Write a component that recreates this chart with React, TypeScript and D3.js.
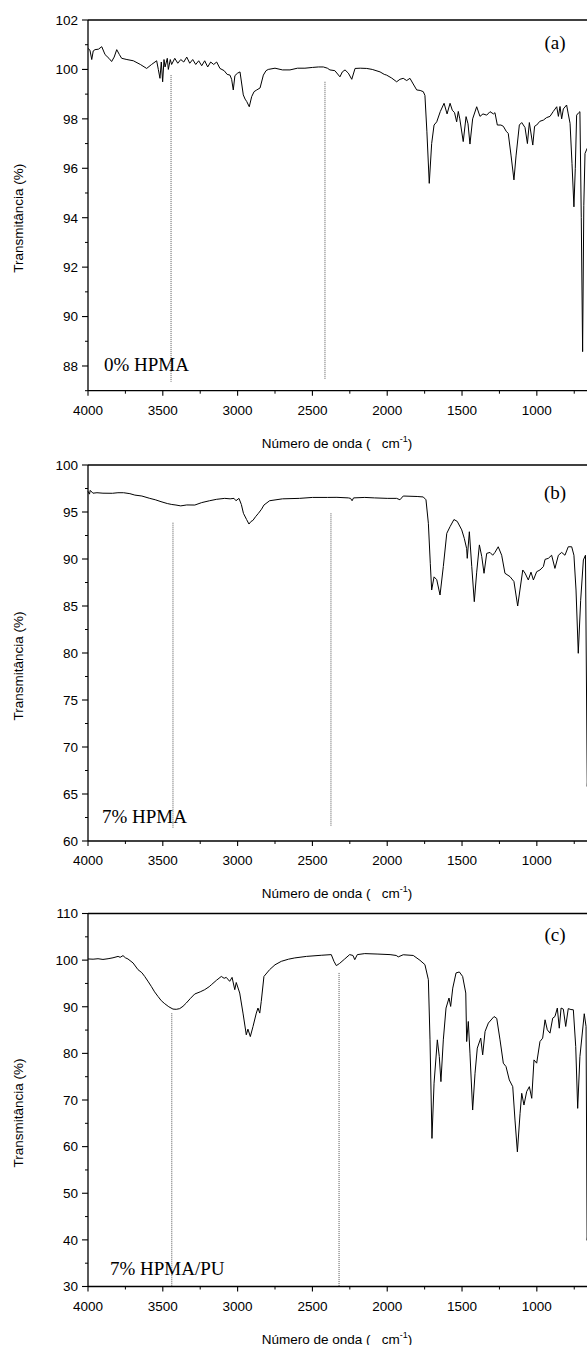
import React from 'react'
import * as d3 from 'd3'

const W = 587
const H = 1345

// [número de onda (cm-1), transmitância (%)]
const specA: [number, number][] = [
  [4000,100.85],[3987,100.78],[3975,100.4],[3965,100.75],[3953,100.8],[3930,100.82],[3908,100.92],[3886,100.6],
  [3860,100.45],[3842,100.32],[3825,100.5],[3808,100.8],[3790,100.6],[3775,100.45],[3740,100.4],[3697,100.35],
  [3650,100.2],[3608,100.04],[3575,100.2],[3541,100.35],[3530,100.0],[3519,99.64],[3510,100.3],[3501,99.5],
  [3492,100.4],[3485,100.1],[3470,100.45],[3463,100.0],[3450,100.4],[3441,100.2],[3420,100.45],[3400,100.25],
  [3380,100.4],[3360,100.3],[3340,100.5],[3320,100.25],[3300,100.4],[3280,100.2],[3260,100.35],[3240,100.15],
  [3220,100.35],[3200,100.1],[3180,100.3],[3160,100.2],[3140,100.3],[3118,100.04],[3090,99.95],[3070,99.8],
  [3051,99.77],[3040,99.6],[3029,99.17],[3018,99.75],[3000,99.85],[2984,99.9],[2962,98.97],[2950,98.8],
  [2939,98.7],[2922,98.49],[2906,98.9],[2890,99.1],[2872,99.17],[2850,99.25],[2828,99.77],[2810,99.95],
  [2795,100.0],[2750,100.05],[2700,99.98],[2650,99.98],[2600,100.05],[2550,100.05],[2500,100.08],[2460,100.1],
  [2427,100.1],[2400,100.05],[2383,99.98],[2350,99.95],[2316,99.7],[2300,99.9],[2282,99.98],[2260,99.85],
  [2237,99.6],[2215,100.04],[2180,100.05],[2137,100.04],[2100,100.0],[2048,99.9],[2020,99.8],[2004,99.77],
  [1970,99.65],[1937,99.5],[1915,99.6],[1893,99.64],[1870,99.55],[1848,99.64],[1830,99.45],[1803,99.17],
  [1780,99.15],[1759,99.1],[1748,98.95],[1735,97.5],[1719,95.39],[1703,97.0],[1687,97.75],[1669,97.88],
  [1645,98.3],[1620,98.63],[1600,98.2],[1580,98.63],[1565,98.35],[1550,98.25],[1536,97.88],[1525,98.3],
  [1515,98.0],[1492,97.08],[1473,98.09],[1460,97.8],[1447,96.98],[1429,98.0],[1402,98.49],[1380,98.1],
  [1360,98.2],[1335,98.15],[1313,98.29],[1290,98.2],[1280,98.25],[1264,97.75],[1240,97.75],[1224,97.7],
  [1205,97.5],[1191,97.41],[1172,96.5],[1153,95.53],[1139,96.5],[1117,97.75],[1101,97.85],[1079,97.65],
  [1063,97.0],[1050,97.85],[1027,96.94],[1015,97.7],[1001,97.75],[980,97.9],[956,97.95],[935,98.05],
  [912,98.1],[890,98.3],[867,98.49],[856,98.1],[845,98.5],[834,98.0],[823,98.4],[801,98.56],[790,98.2],
  [778,97.82],[765,96.2],[752,94.44],[743,96.0],[734,98.15],[720,98.25],[712,98.29],[703,94.0],[694,88.58],
  [686,94.5],[678,96.6],[664,96.8],[640,97.0]
]

const specB: [number, number][] = [
  [4000,97.2],[3990,96.9],[3985,97.3],[3967,97.0],[3940,97.05],[3900,97.0],[3837,96.99],[3800,97.05],
  [3762,97.05],[3720,96.95],[3687,96.8],[3640,96.7],[3587,96.45],[3550,96.3],[3512,96.1],[3470,95.9],
  [3440,95.8],[3412,95.74],[3380,95.65],[3340,95.75],[3286,95.74],[3240,96.0],[3187,96.2],[3140,96.35],
  [3086,96.45],[3050,96.4],[3024,96.45],[3011,96.2],[2991,96.45],[2975,95.8],[2961,94.86],[2940,94.2],
  [2924,93.72],[2910,94.0],[2898,94.1],[2880,94.5],[2861,94.86],[2840,95.3],[2824,95.74],[2786,96.2],
  [2700,96.4],[2586,96.45],[2500,96.55],[2400,96.55],[2336,96.56],[2260,96.5],[2245,96.45],[2235,96.2],
  [2225,96.5],[2150,96.55],[2085,96.5],[2000,96.45],[1937,96.45],[1915,96.3],[1893,96.7],[1800,96.65],
  [1759,96.6],[1741,96.3],[1725,93.8],[1712,89.5],[1703,86.7],[1687,88.1],[1669,87.8],[1647,86.17],
  [1625,89.2],[1602,92.73],[1580,93.44],[1554,94.2],[1532,94.0],[1502,93.1],[1485,92.2],[1469,91.1],
  [1465,90.07],[1451,92.9],[1435,89.2],[1418,85.46],[1402,88.6],[1384,91.5],[1368,90.25],[1353,88.48],
  [1335,90.6],[1313,90.7],[1295,90.4],[1280,90.7],[1258,91.3],[1235,90.4],[1213,88.48],[1179,88.12],
  [1153,87.6],[1128,85.0],[1113,86.7],[1094,88.83],[1079,88.5],[1057,87.77],[1039,88.6],[1023,87.77],
  [1001,88.65],[979,88.83],[956,89.2],[945,89.96],[923,90.07],[901,90.4],[879,89.0],[856,90.4],
  [834,90.7],[812,90.4],[790,91.3],[767,91.3],[752,90.4],[738,86.7],[723,79.97],[707,85.6],
  [689,89.9],[675,90.4],[663,65.8],[640,72.0]
]

const specC: [number, number][] = [
  [4000,100.25],[3966,100.2],[3933,100.3],[3900,100.15],[3866,100.3],[3833,100.5],[3799,100.8],[3785,100.6],
  [3766,100.97],[3750,100.5],[3733,100.25],[3699,99.4],[3666,97.96],[3640,97.3],[3621,96.5],[3600,95.5],
  [3577,94.37],[3555,93.2],[3532,92.2],[3510,91.3],[3487,90.65],[3460,90.0],[3432,89.5],[3410,89.45],
  [3387,89.6],[3365,90.1],[3343,90.8],[3315,91.8],[3287,92.73],[3250,93.2],[3220,93.66],[3190,94.3],
  [3176,94.7],[3142,95.66],[3109,96.5],[3090,96.1],[3076,96.3],[3053,95.45],[3037,96.3],[3019,93.66],
  [3009,95.2],[2986,92.94],[2964,88.64],[2942,83.98],[2931,85.2],[2915,83.6],[2897,85.77],[2875,88.64],
  [2864,89.72],[2852,88.64],[2842,91.14],[2824,96.5],[2786,97.96],[2750,99.0],[2708,99.74],[2660,100.2],
  [2618,100.47],[2540,100.8],[2441,101.04],[2374,101.18],[2356,99.74],[2340,98.82],[2318,99.3],[2284,100.25],
  [2251,101.18],[2229,101.0],[2217,100.1],[2200,101.18],[2150,101.4],[2062,101.3],[1981,101.18],[1940,101.0],
  [1926,100.7],[1893,101.15],[1826,101.0],[1781,99.96],[1748,99.03],[1725,95.8],[1714,82.9],[1701,61.76],
  [1687,73.6],[1665,82.9],[1652,79.3],[1641,73.94],[1625,82.9],[1607,89.72],[1587,91.87],[1576,90.07],
  [1562,94.0],[1540,97.25],[1518,97.46],[1496,96.5],[1475,92.94],[1469,82.54],[1458,86.84],[1447,80.05],
  [1429,67.85],[1413,75.74],[1398,81.12],[1375,83.27],[1362,79.68],[1346,84.7],[1324,86.5],[1286,87.9],
  [1268,87.5],[1246,82.9],[1224,77.9],[1206,77.17],[1184,74.3],[1161,72.86],[1146,65.7],[1130,58.88],
  [1112,67.14],[1101,71.44],[1086,68.92],[1068,71.8],[1050,72.86],[1034,70.36],[1019,78.6],[1001,77.9],
  [979,82.54],[961,83.27],[945,87.2],[930,85.05],[912,84.34],[894,87.55],[879,87.9],[863,89.72],
  [850,85.4],[838,89.72],[823,89.5],[807,85.77],[790,89.6],[772,89.4],[756,89.35],[740,81.46],
  [727,68.21],[712,79.3],[683,88.5],[671,85.77],[664,39.9],[645,45.0]
]

// linhas pontilhadas: [número de onda, T início, T fim]
const markersA = [[3445, 99.77, 87.36], [2416, 99.5, 87.46]]
const markersB = [[3432, 93.86, 61.4], [2376, 94.86, 61.6]]
const markersC = [[3440, 88.6, 30], [2322, 97.25, 30]]

const xTicks = [4000, 3500, 3000, 2500, 2000, 1500, 1000]
const xMinor = [3750, 3250, 2750, 2250, 1750, 1250, 750]
const yTicksA = [88, 90, 92, 94, 96, 98, 100, 102]
const yMinorA = [87, 89, 91, 93, 95, 97, 99, 101]
const yTicksB = [60, 65, 70, 75, 80, 85, 90, 95, 100]
const yMinorB = [62.5, 67.5, 72.5, 77.5, 82.5, 87.5, 92.5, 97.5]
const yTicksC = [30, 40, 50, 60, 70, 80, 90, 100, 110]
const yMinorC = [35, 45, 55, 65, 75, 85, 95, 105]

const tags = ['(a)', '(b)', '(c)']
const samples = ['0% HPMA', '7% HPMA', '7% HPMA/PU']

const sans = 'Arial, "Liberation Sans", sans-serif'
const serif = '"Times New Roman", "Liberation Serif", serif'

const panels = [
  { top: 20, bottom: 390.7, domain: [87, 102], ticks: yTicksA, minor: yMinorA, data: specA, markers: markersA, sx: 104, sy: 371, ty: 49 },
  { top: 465, bottom: 841, domain: [60, 100], ticks: yTicksB, minor: yMinorB, data: specB, markers: markersB, sx: 102, sy: 823, ty: 499 },
  { top: 913.5, bottom: 1286.5, domain: [30, 110], ticks: yTicksC, minor: yMinorC, data: specC, markers: markersC, sx: 110, sy: 1275, ty: 941 },
]

const Panel = ({ p, i }: any) => {
  const x = d3.scaleLinear().domain([4000, 400]).range([88, 626.6])
  const y = d3.scaleLinear().domain(p.domain).range([p.bottom, p.top])
  const line = d3.line<[number, number]>().x(d => x(d[0])).y(d => y(d[1]))
  const cy = (p.top + p.bottom) / 2 + 13

  return (
    <g>
      {/* curva */}
      <path d={line(p.data) || ''} fill="none" stroke="#000" strokeWidth={1} strokeLinejoin="round" />
      {p.markers.map((m: number[], k: number) => (
        <line key={k} x1={x(m[0])} x2={x(m[0])} y1={y(m[1])} y2={y(m[2])}
          stroke="#555" strokeWidth={1} strokeDasharray="1,1" />
      ))}
      {/* moldura */}
      <line x1={88} x2={W + 10} y1={p.top} y2={p.top} stroke="#000" strokeWidth={1.3} />
      <line x1={88} x2={W + 10} y1={p.bottom} y2={p.bottom} stroke="#000" strokeWidth={1.3} />
      <line x1={88} x2={88} y1={p.top} y2={p.bottom} stroke="#000" strokeWidth={1.3} />
      {p.ticks.map((t: number) => (
        <g key={t}>
          <line x1={82} x2={88} y1={y(t)} y2={y(t)} stroke="#000" strokeWidth={1.1} />
          <text x={78} y={y(t) + 4.8} textAnchor="end" fontSize={13.5} fontFamily={sans}>{t}</text>
        </g>
      ))}
      {p.minor.map((t: number) => (
        <line key={t} x1={85} x2={88} y1={y(t)} y2={y(t)} stroke="#000" strokeWidth={1} />
      ))}
      {xTicks.map(t => (
        <g key={t}>
          <line x1={x(t)} x2={x(t)} y1={p.bottom} y2={p.bottom + 5} stroke="#000" strokeWidth={1.1} />
          <text x={x(t)} y={p.bottom + 24} textAnchor="middle" fontSize={13.5} fontFamily={sans}>{t}</text>
        </g>
      ))}
      {xMinor.map(t => (
        <line key={t} x1={x(t)} x2={x(t)} y1={p.bottom} y2={p.bottom + 3} stroke="#000" strokeWidth={1} />
      ))}
      <text x={337} y={p.bottom + 57} textAnchor="middle" fontSize={13.5} fontFamily={sans}>
        {'Número de onda (\u00a0\u00a0 cm'}<tspan fontSize={9} dy={-6}>-1</tspan><tspan dy={6}>)</tspan>
      </text>
      <text transform={`translate(23,${cy}) rotate(-90)`} textAnchor="middle" fontSize={13.5} fontFamily={sans}>
        Transmitância (%)
      </text>
      <text x={555} y={p.ty} textAnchor="middle" fontSize={19} fontFamily={serif}>{tags[i]}</text>
      <text x={p.sx} y={p.sy} fontSize={19} fontFamily={serif}>{samples[i]}</text>
    </g>
  )
}

export default function App() {
  return (
    <svg width={W} height={H} viewBox={`0 0 ${W} ${H}`}
      style={{ position: 'absolute', left: 0, top: 0, background: '#fff', display: 'block' }}>
      <rect width={W} height={H} fill="#fff" />
      {panels.map((p, i) => <Panel key={i} p={p} i={i} />)}
    </svg>
  )
}
